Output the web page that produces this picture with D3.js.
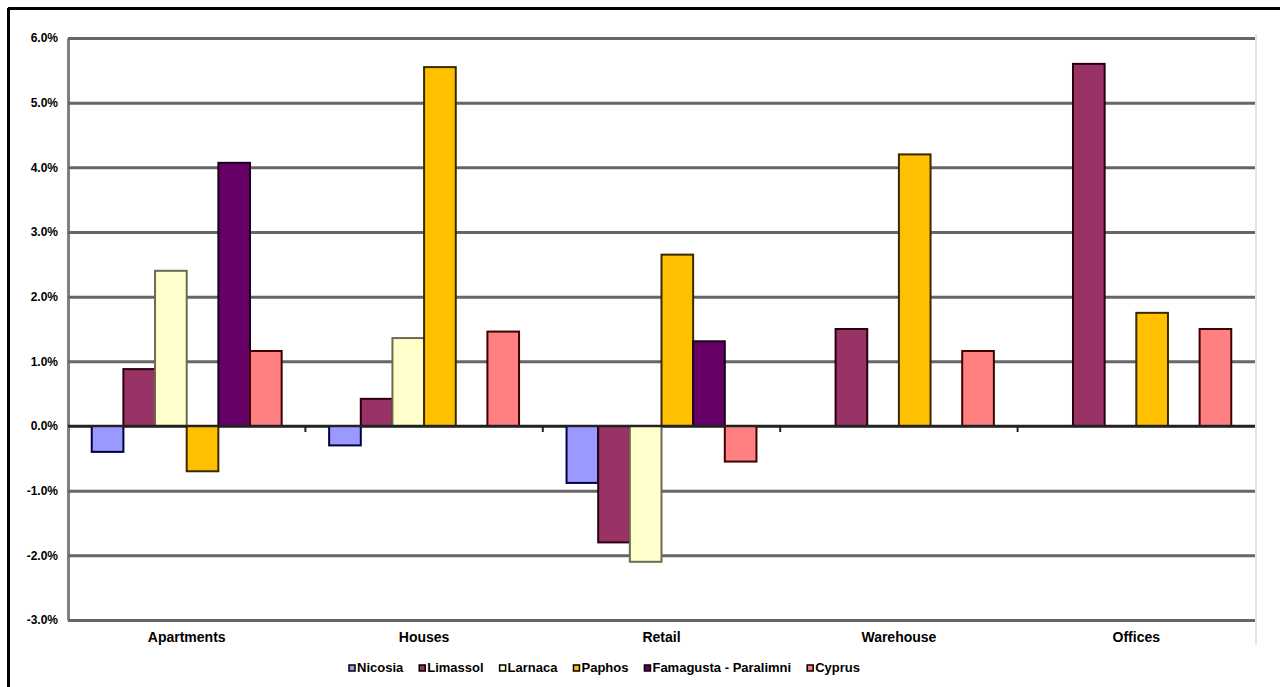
<!DOCTYPE html>
<html>
<head>
<meta charset="utf-8">
<script src="https://cdn.jsdelivr.net/npm/d3@7"></script>
<style>
  html, body { margin: 0; padding: 0; background: #fff; }
  svg { display: block; }
</style>
</head>
<body>
<svg id="chart" width="1280" height="687"></svg>
<script>
const categories = ['Apartments', 'Houses', 'Retail', 'Warehouse', 'Offices']
const series = ['Nicosia', 'Limassol', 'Larnaca', 'Paphos', 'Famagusta - Paralimni', 'Cyprus']

// percent change per category, in series order (null = no bar)
const nicosia = [-0.4, -0.3, -0.88, null, null]
const limassol = [0.88, 0.42, -1.8, 1.5, 5.6]
const larnaca = [2.4, 1.36, -2.1, null, null]
const paphos = [-0.7, 5.55, 2.65, 4.2, 1.75]
const famagusta = [4.07, null, 1.31, null, null]
const cyprus = [1.16, 1.46, -0.55, 1.16, 1.5]

const yTicks = [-3, -2, -1, 0, 1, 2, 3, 4, 5, 6]

const fills = ['#9999ff', '#993366', '#ffffcc', '#ffc000', '#660066', '#ff8080']
const strokes = ['#000040', '#2a0010', '#6b6b50', '#3a2800', '#1a001a', '#400000']

const values = [nicosia, limassol, larnaca, paphos, famagusta, cyprus]
const rows = []
categories.forEach((c, ci) => {
  series.forEach((s, si) => {
    const v = values[si][ci]
    if (v !== null) rows.push({ category: c, series: s, index: si, value: v })
  })
})

const width = 1280
const height = 687
const margin = { top: 38, right: 25, bottom: 67, left: 68 }
const plotRight = width - margin.right
const plotBottom = height - margin.bottom

const svg = d3.select('#chart')

// outer frame (top and left only)
svg.append('line')
  .attr('x1', 8).attr('x2', width).attr('y1', 8.5).attr('y2', 8.5)
  .attr('stroke', '#000').attr('stroke-width', 3)
svg.append('line')
  .attr('x1', 8.5).attr('x2', 8.5).attr('y1', 8).attr('y2', height)
  .attr('stroke', '#000').attr('stroke-width', 3)

const x0 = d3.scaleBand()
  .domain(categories)
  .range([margin.left, plotRight])

const x1 = d3.scaleBand()
  .domain(series)
  .range([0, x0.bandwidth()])
  .paddingOuter(0.75)

const y = d3.scaleLinear()
  .domain([-3, 6])
  .range([plotBottom, margin.top])

// right edge of plot area (faint)
svg.append('line')
  .attr('x1', plotRight + 1).attr('x2', plotRight + 1)
  .attr('y1', margin.top - 4).attr('y2', plotBottom + 25)
  .attr('stroke', '#e4e4e4').attr('stroke-width', 2)

const yAxis = g =>
  g.attr('transform', `translate(${margin.left},0)`)
    .call(d3.axisLeft(y)
      .tickValues(yTicks)
      .tickFormat(d => d.toFixed(1) + '%')
      .tickSizeInner(-(plotRight - margin.left))
      .tickSizeOuter(0)
      .tickPadding(10))
    .call(g => g.select('.domain')
      .attr('stroke', '#808080').attr('stroke-width', 3))
    .call(g => g.selectAll('.tick line')
      .attr('stroke', '#666').attr('stroke-width', 3))
    .call(g => g.selectAll('.tick text')
      .attr('fill', '#000')
      .attr('font-family', '"Liberation Sans Narrow", "Liberation Sans", Arial, sans-serif')
      .attr('font-weight', 'bold')
      .attr('font-size', 12))

svg.append('g').call(yAxis)

// bars
svg.append('g')
  .selectAll('rect')
  .data(rows)
  .join('rect')
  .attr('x', d => x0(d.category) + x1(d.series))
  .attr('y', d => y(Math.max(0, d.value)))
  .attr('width', x1.bandwidth())
  .attr('height', d => Math.abs(y(d.value) - y(0)))
  .attr('fill', d => fills[d.index])
  .attr('stroke', d => strokes[d.index])
  .attr('stroke-width', 2)

// zero line with category separators
const zero = svg.append('g')
zero.append('line')
  .attr('x1', margin.left).attr('x2', plotRight)
  .attr('y1', y(0)).attr('y2', y(0))
  .attr('stroke', '#222').attr('stroke-width', 2.5)
zero.selectAll('.sep')
  .data(categories.slice(1))
  .join('line')
  .attr('class', 'sep')
  .attr('x1', d => x0(d)).attr('x2', d => x0(d))
  .attr('y1', y(0)).attr('y2', y(0) + 6)
  .attr('stroke', '#222').attr('stroke-width', 2)

// category labels
const xAxis = g =>
  g.attr('transform', `translate(0,${plotBottom})`)
    .call(d3.axisBottom(x0).tickSize(0).tickPadding(12))
    .call(g => g.select('.domain').remove())
    .call(g => g.selectAll('.tick text')
      .attr('fill', '#000')
      .attr('font-family', '"Liberation Sans Narrow", "Liberation Sans", Arial, sans-serif')
      .attr('font-weight', 'bold')
      .attr('font-size', 14))

svg.append('g').call(xAxis)

// legend
const legend = svg.append('g')
  .attr('transform', 'translate(349,672)')
  .attr('font-family', '"Liberation Sans Narrow", "Liberation Sans", Arial, sans-serif')
  .attr('font-weight', 'bold')
  .attr('font-size', 13)

let lx = 0
series.forEach((s, i) => {
  const item = legend.append('g').attr('transform', `translate(${lx},0)`)
  item.append('rect')
    .attr('x', 0).attr('y', -7)
    .attr('width', 6).attr('height', 6)
    .attr('fill', fills[i])
    .attr('stroke', '#000').attr('stroke-width', 1.5)
  const t = item.append('text')
    .attr('x', 8).attr('y', 0)
    .attr('fill', '#000')
    .text(s)
  lx += 8 + t.node().getComputedTextLength() + 16
})
</script>
</body>
</html>
